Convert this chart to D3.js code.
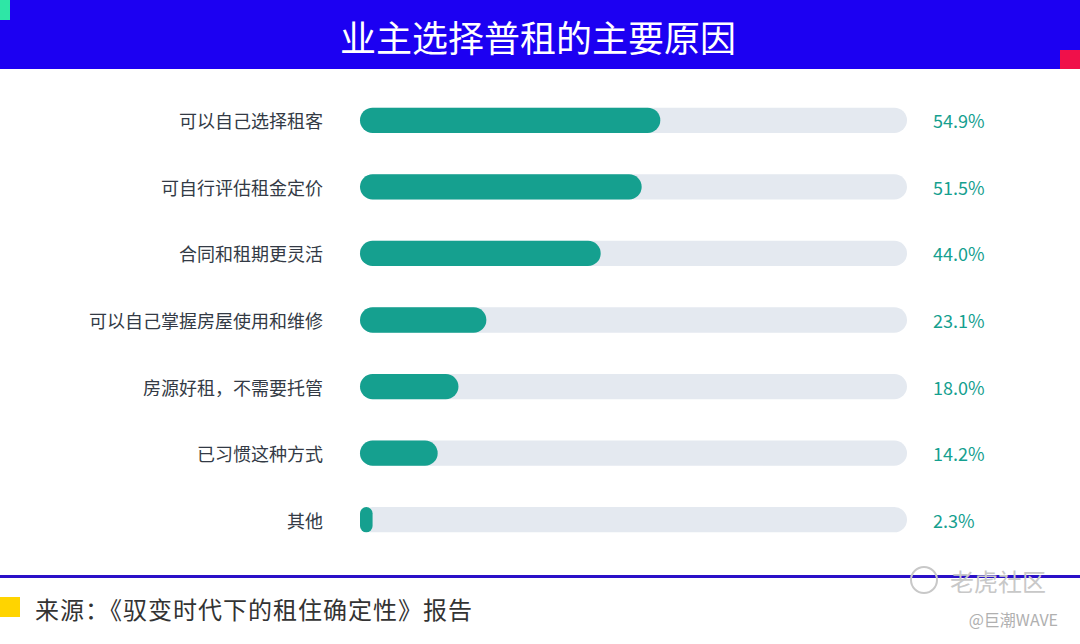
<!DOCTYPE html>
<html>
<head>
<meta charset="utf-8">
<script src="https://cdn.jsdelivr.net/npm/d3@7"></script>
<style>
  body { margin: 0; background: #fff; }
  svg { display: block; font-family: "Noto Sans CJK SC", "Noto Sans", sans-serif; }
</style>
</head>
<body>
<div id="vis"></div>
<script>
// data
const categories = ["可以自己选择租客", "可自行评估租金定价", "合同和租期更灵活",
  "可以自己掌握房屋使用和维修", "房源好租，不需要托管", "已习惯这种方式", "其他"];
const values = [54.9, 51.5, 44.0, 23.1, 18.0, 14.2, 2.3];
const title = "业主选择普租的主要原因";
const source = "来源：《驭变时代下的租住确定性》报告";

const FRAME_WIDTH = 1080;
const FRAME_HEIGHT = 644;

const svg = d3.select("#vis")
  .append("svg")
  .attr("width", FRAME_WIDTH)
  .attr("height", FRAME_HEIGHT);

// header band
svg.append("rect").attr("x", 0).attr("y", 0).attr("width", FRAME_WIDTH).attr("height", 69).attr("fill", "#1c00f2");
svg.append("rect").attr("x", 0).attr("y", 0).attr("width", 10).attr("height", 20).attr("fill", "#2ee6a6");
svg.append("rect").attr("x", 1060).attr("y", 50).attr("width", 20).attr("height", 19).attr("fill", "#f0104a");
svg.append("text")
  .attr("x", 538).attr("y", 36)
  .attr("text-anchor", "middle").attr("dominant-baseline", "central")
  .attr("fill", "#fff").attr("font-size", 36)
  .text(title);

// scales
const X_SCALE = d3.scaleLinear().domain([0, 100]).range([360, 907]);
const Y_SCALE = d3.scaleBand().domain(categories).range([87, 553]).paddingInner(0.62).paddingOuter(0.31);
const BAR_H = Y_SCALE.bandwidth();

const rows = svg.selectAll(".row")
  .data(categories)
  .enter()
  .append("g")
  .attr("class", "row");

// tracks
rows.append("rect")
  .attr("x", X_SCALE(0))
  .attr("y", (d) => Y_SCALE(d))
  .attr("width", X_SCALE(100) - X_SCALE(0))
  .attr("height", BAR_H)
  .attr("rx", BAR_H / 2)
  .attr("fill", "#e4e9f0");

// bars
rows.append("rect")
  .attr("x", X_SCALE(0))
  .attr("y", (d) => Y_SCALE(d))
  .attr("width", (d, i) => X_SCALE(values[i]) - X_SCALE(0))
  .attr("height", BAR_H)
  .attr("rx", (d, i) => Math.min(BAR_H / 2, (X_SCALE(values[i]) - X_SCALE(0)) / 2))
  .attr("fill", "#15a08f");

// category labels
rows.append("text")
  .attr("x", 323)
  .attr("y", (d) => Y_SCALE(d) + BAR_H / 2)
  .attr("text-anchor", "end").attr("dominant-baseline", "central")
  .attr("fill", "#333a45").attr("font-size", 18)
  .text((d) => d);

// value labels
rows.append("text")
  .attr("x", 933)
  .attr("y", (d) => Y_SCALE(d) + BAR_H / 2)
  .attr("dominant-baseline", "central")
  .attr("fill", "#15a08f").attr("font-size", 18)
  .text((d, i) => values[i].toFixed(1) + "%");

// footer
svg.append("rect").attr("x", 0).attr("y", 575).attr("width", FRAME_WIDTH).attr("height", 3).attr("fill", "#2a10c8");
svg.append("rect").attr("x", 0).attr("y", 597).attr("width", 20).attr("height", 20).attr("fill", "#ffd400");
svg.append("text")
  .attr("x", 35).attr("y", 608)
  .attr("dominant-baseline", "central")
  .attr("fill", "#333").attr("font-size", 24)
  .attr("letter-spacing", 1)
  .text(source);

// watermark
svg.append("circle").attr("cx", 924).attr("cy", 580).attr("r", 13)
  .attr("fill", "none").attr("stroke", "#c8c8c8").attr("stroke-width", 2);
svg.append("text").attr("x", 950).attr("y", 580).attr("dominant-baseline", "central")
  .attr("fill", "#c8c8c8").attr("font-size", 24).text("老虎社区");
svg.append("text").attr("x", 1058).attr("y", 619).attr("dominant-baseline", "central")
  .attr("text-anchor", "end").attr("fill", "#b0b0b0").attr("font-size", 16).text("@巨潮WAVE");
</script>
</body>
</html>
